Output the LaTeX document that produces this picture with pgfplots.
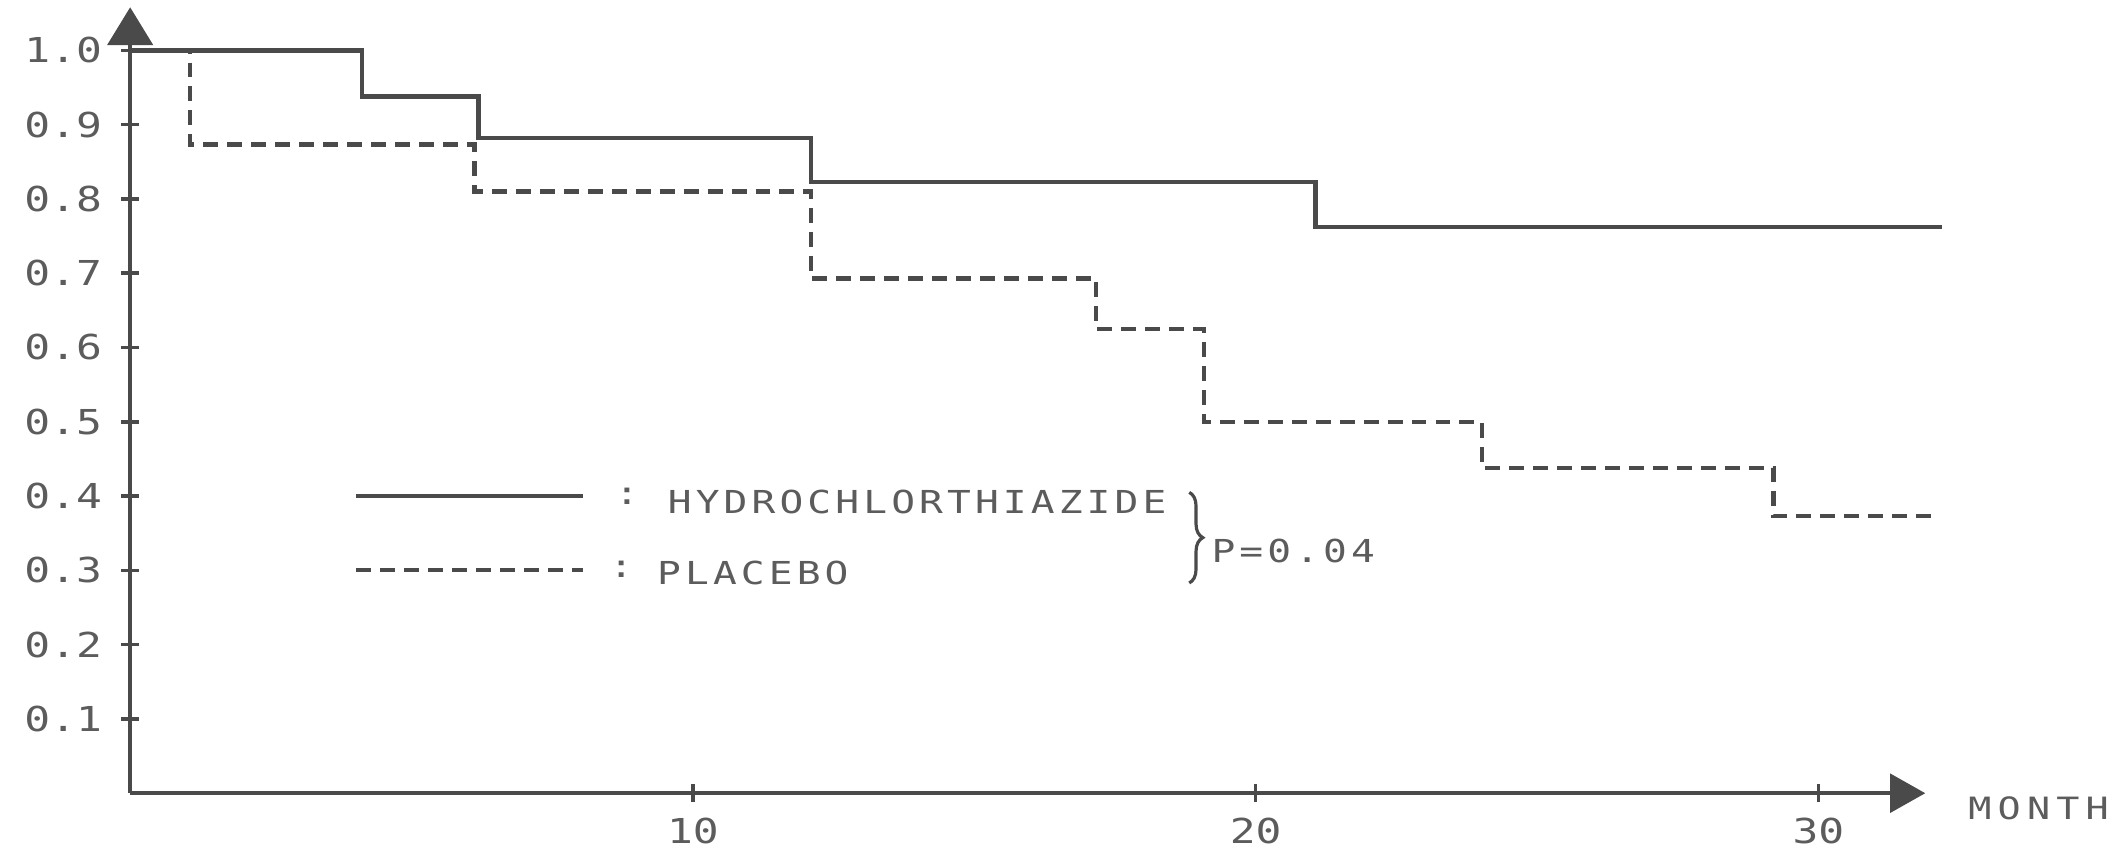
\documentclass[border=0pt]{standalone}
\usepackage{pgfplots}
\pgfplotsset{compat=1.18}
\usepackage{fontspec}
\usetikzlibrary{arrows.meta,decorations.pathreplacing}
\newfontfamily\tw[FakeStretch=1.25]{DejaVu Sans Mono}
\newfontfamily\twl[FakeStretch=1.25,LetterSpace=13]{DejaVu Sans Mono}
\newfontfamily\twm[FakeStretch=1.25,LetterSpace=20]{DejaVu Sans Mono}
\definecolor{ink}{HTML}{4A4A4A}
\definecolor{txt}{HTML}{5C5C5C}
\begin{document}
\begin{tikzpicture}
\useasboundingbox (-28.8pt,-13.2pt) rectangle (441.6pt,175.5pt);
\begin{axis}[
  at={(0pt,0pt)}, anchor=south west,
  scale only axis, width=397.2pt, height=173.9pt,
  xmin=0, xmax=31.9, ymin=0, ymax=1.058,
  axis lines=left,
  x axis line style={ink, line width=1pt, -{Triangle[length=7.8pt,width=8.5pt]}},
  y axis line style={ink, line width=1pt, -{Triangle[length=8.4pt,width=10pt]}},
  clip=false,
  xtick={10,20,30}, xticklabels={10,20,30},
  ytick={0.1,0.2,0.3,0.4,0.5,0.6,0.7,0.8,0.9,1.0},
  yticklabels={0.1,0.2,0.3,0.4,0.5,0.6,0.7,0.8,0.9,1.0},
  tick align=center, major tick length=4pt,
  tick style={ink, line width=0.8pt},
  xticklabel style={font=\tw\fontsize{7.6}{8}\selectfont, text=txt, yshift=0pt},
  yticklabel style={font=\tw\fontsize{7.6}{8}\selectfont, text=txt, xshift=-0.7pt},
]
% Hydrochlorthiazide (solid)
\addplot[const plot, ink, line width=1pt] coordinates {
  (0,1.0) (4.12,0.938) (6.19,0.882) (12.1,0.823) (21.06,0.762) (32.19,0.762)
};
% Placebo (dashed)
\addplot[const plot, ink, line width=1pt, dash pattern=on 3.3pt off 2pt] coordinates {
  (0,1.0) (1.06,0.873) (6.12,0.81) (12.1,0.693) (17.16,0.625) (19.08,0.50) (24.02,0.438) (29.2,0.373) (32.14,0.373)
};
% legend
\draw[ink, line width=0.9pt] (axis cs:4.02,0.40) -- (axis cs:8.05,0.40);
\draw[ink, line width=0.9pt, dash pattern=on 3.3pt off 2pt] (axis cs:4.02,0.301) -- (axis cs:8.05,0.301);
\node[anchor=west, inner sep=0, text=txt, font=\twl\fontsize{7}{8}\selectfont] at (axis cs:8.6,0.40) {:};
\node[anchor=west, inner sep=0, text=txt, font=\twl\fontsize{7}{8}\selectfont] at (axis cs:9.54,0.392) {HYDROCHLORTHIAZIDE};
\node[anchor=west, inner sep=0, text=txt, font=\twl\fontsize{7}{8}\selectfont] at (axis cs:8.5,0.301) {:};
\node[anchor=west, inner sep=0, text=txt, font=\twl\fontsize{7}{8}\selectfont] at (axis cs:9.35,0.296) {PLACEBO};
\draw[ink, line width=0.7pt, decorate, decoration={brace, amplitude=3pt}] (axis cs:18.82,0.405) -- (axis cs:18.82,0.283);
\node[anchor=west, inner sep=0, text=txt, font=\twl\fontsize{7}{8}\selectfont] at (axis cs:19.2,0.326) {P=0.04};
\node[anchor=west, inner sep=0, text=txt, font=\twm\fontsize{6.8}{7}\selectfont] at (axis cs:32.65,-0.02) {MONTH};
\end{axis}
\end{tikzpicture}
\end{document}
